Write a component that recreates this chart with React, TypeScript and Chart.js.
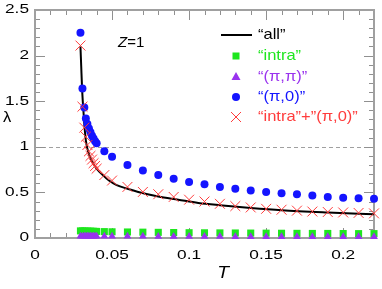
import React, { useEffect, useRef } from "react";
import { Chart, registerables } from "chart.js";
Chart.register(...registerables);

// ---- data ----
const T_points = [
  0.0295, 0.0308, 0.032, 0.033, 0.034, 0.035, 0.036, 0.037, 0.038, 0.039, 0.04,
  0.045, 0.05,
  0.06, 0.07, 0.08, 0.09, 0.1, 0.11, 0.12, 0.13, 0.14, 0.15, 0.16, 0.17, 0.18, 0.19, 0.2, 0.21, 0.22,
];
const lambdaPiZero = [
  2.25, 1.64, 1.43, 1.31, 1.25, 1.2, 1.16, 1.12, 1.09, 1.06, 1.04,
  0.95, 0.89,
  0.8, 0.74, 0.69, 0.65, 0.615, 0.59, 0.56, 0.54, 0.52, 0.505, 0.49, 0.48, 0.465, 0.45, 0.44, 0.435, 0.43,
];
const lambdaIntra = [
  0.078, 0.077, 0.076, 0.075, 0.075, 0.074, 0.074, 0.073, 0.073, 0.072, 0.072,
  0.07, 0.068,
  0.066, 0.064, 0.062, 0.06, 0.058, 0.057, 0.056, 0.055, 0.054, 0.053, 0.052, 0.051, 0.05, 0.05, 0.049, 0.048, 0.048,
];
const lambdaPiPi = [
  0.02, 0.02, 0.02, 0.02, 0.02, 0.02, 0.02, 0.02, 0.02, 0.02, 0.02,
  0.019, 0.019,
  0.018, 0.018, 0.017, 0.017, 0.016, 0.016, 0.016, 0.015, 0.015, 0.015, 0.015, 0.014, 0.014, 0.014, 0.014, 0.013, 0.013,
];
const lambdaIntraPlusPiZero = [
  2.11, 1.44, 1.21, 1.11, 1.02, 0.95, 0.9, 0.86, 0.82, 0.79, 0.76,
  0.69, 0.63,
  0.56, 0.505, 0.48, 0.45, 0.42, 0.4, 0.375, 0.35, 0.335, 0.32, 0.31, 0.3, 0.29, 0.285, 0.28, 0.275, 0.27,
];
const T_all = [
  0.0295, 0.03, 0.0305, 0.031, 0.032, 0.033, 0.034, 0.035, 0.037, 0.04, 0.044, 0.048, 0.053,
  0.06, 0.067, 0.08, 0.093, 0.106, 0.12, 0.14, 0.16, 0.19, 0.22,
];
const lambdaAll = [
  2.1, 1.88, 1.66, 1.5, 1.25, 1.07, 0.98, 0.92, 0.84, 0.76, 0.69, 0.63, 0.58,
  0.54, 0.505, 0.455, 0.42, 0.385, 0.36, 0.33, 0.305, 0.28, 0.26,
];
const xTickValues = [0, 0.05, 0.1, 0.15, 0.2];
const xTickLabels = ["0", "0.05", "0.1", "0.15", "0.2"];
const yTickValues = [0, 0.5, 1, 1.5, 2, 2.5];
const yTickLabels = ["0", "0.5", "1", "1.5", "2", "2.5"];
const legendLabels = ["“all”", "“intra”", "“(π,π)”", "“(π,0)”", "“intra”+”(π,0)”"];

const C_ALL = "#000000";
const C_INTRA = "#1ee61e";
const C_PIPI = "#9933ee";
const C_PIZERO = "#1414ff";
const C_SUM = "#ff3c3c";
const FONT = "'Liberation Sans', Arial, Helvetica, sans-serif";

function pts(xs: number[], ys: number[]) {
  return xs.map((x, i) => ({ x, y: ys[i] }));
}

function sText(
  ctx: CanvasRenderingContext2D, s: string, x: number, y: number, font: string,
  color: string, align: "left" | "center" | "right", sx: number
) {
  ctx.save();
  ctx.font = font;
  ctx.fillStyle = color;
  ctx.textBaseline = "middle";
  ctx.textAlign = "left";
  const w = ctx.measureText(s).width * sx;
  const left = align === "center" ? x - w / 2 : align === "right" ? x - w : x;
  ctx.translate(left, y);
  ctx.scale(sx, 1);
  ctx.fillText(s, 0, 0);
  ctx.restore();
  return w;
}

const deco = {
  id: "deco",
  beforeDatasetsDraw(chart: any) {
    const { ctx, chartArea: a, scales } = chart;
    const x = scales.x, y = scales.y;
    ctx.save();
    // dashed reference line at lambda = 1
    const y1 = Math.round(y.getPixelForValue(1)) + 0.5;
    ctx.strokeStyle = "#a0a0a0";
    ctx.lineWidth = 1;
    ctx.setLineDash([4, 3]);
    ctx.beginPath();
    ctx.moveTo(a.left, y1);
    ctx.lineTo(a.right, y1);
    ctx.stroke();
    ctx.setLineDash([]);
    // inward ticks
    ctx.strokeStyle = "#909090";
    ctx.lineWidth = 1;
    ctx.beginPath();
    for (let i = 0; i <= 22; i++) {
      const px = Math.round(x.getPixelForValue(i / 100)) + 0.5;
      const len = i % 5 === 0 ? 10 : 5;
      ctx.moveTo(px, a.bottom);
      ctx.lineTo(px, a.bottom - len);
      ctx.moveTo(px, a.top);
      ctx.lineTo(px, a.top + len);
    }
    for (let i = 0; i <= 25; i++) {
      const py = Math.round(y.getPixelForValue(i / 10)) + 0.5;
      const len = i % 5 === 0 ? 10 : 5;
      ctx.moveTo(a.left, py);
      ctx.lineTo(a.left + len, py);
      ctx.moveTo(a.right, py);
      ctx.lineTo(a.right - len, py);
    }
    ctx.stroke();
    // frame
    ctx.strokeStyle = "#a0a0a0";
    ctx.lineWidth = 2;
    ctx.strokeRect(a.left, a.top, a.right - a.left, a.bottom - a.top);
    ctx.restore();
  },
  afterDraw(chart: any) {
    const { ctx, chartArea: a, scales } = chart;
    const x = scales.x, y = scales.y;
    const tickFont = `12.5px ${FONT}`;
    xTickValues.forEach((v, i) => {
      sText(ctx, xTickLabels[i], x.getPixelForValue(v), a.bottom + 18, tickFont, "#000", "center", 1.38);
    });
    yTickValues.forEach((v, i) => {
      sText(ctx, yTickLabels[i], a.left - 6, y.getPixelForValue(v), tickFont, "#000", "right", 1.38);
    });
    // axis titles
    sText(ctx, "T", 223, 274, `italic 16px ${FONT}`, "#000", "center", 1.2);
    sText(ctx, "λ", 7, 118, `15px ${FONT}`, "#000", "center", 1.1);
    // Z=1
    const wz = sText(ctx, "Z", 118, 43, `italic 15px ${FONT}`, "#000", "left", 1.0);
    sText(ctx, "=1", 118 + wz, 43, `15px ${FONT}`, "#000", "left", 1.0);
    // legend
    const rows = [35, 56, 76.5, 97, 117];
    const mx = 236;
    const tx = 258;
    const lf = `15px ${FONT}`;
    const colors = [C_ALL, C_INTRA, C_PIPI, C_PIZERO, C_SUM];
    ctx.save();
    // line
    ctx.strokeStyle = C_ALL;
    ctx.lineWidth = 2;
    ctx.beginPath();
    ctx.moveTo(221, rows[0]);
    ctx.lineTo(252, rows[0]);
    ctx.stroke();
    // square
    ctx.fillStyle = C_INTRA;
    ctx.fillRect(mx - 3.5, rows[1] - 3.5, 7, 7);
    // triangle
    ctx.fillStyle = C_PIPI;
    ctx.beginPath();
    ctx.moveTo(mx, rows[2] - 4.5);
    ctx.lineTo(mx + 4.5, rows[2] + 3.5);
    ctx.lineTo(mx - 4.5, rows[2] + 3.5);
    ctx.closePath();
    ctx.fill();
    // circle
    ctx.fillStyle = C_PIZERO;
    ctx.beginPath();
    ctx.arc(mx, rows[3], 4, 0, Math.PI * 2);
    ctx.fill();
    // cross
    ctx.strokeStyle = C_SUM;
    ctx.lineWidth = 1;
    ctx.beginPath();
    ctx.moveTo(mx - 5, rows[4] - 5);
    ctx.lineTo(mx + 5, rows[4] + 5);
    ctx.moveTo(mx + 5, rows[4] - 5);
    ctx.lineTo(mx - 5, rows[4] + 5);
    ctx.stroke();
    ctx.restore();
    legendLabels.forEach((s, i) => sText(ctx, s, tx, rows[i], lf, colors[i], "left", 1.1));
  },
};

export default function App() {
  const ref = useRef<HTMLCanvasElement | null>(null);
  useEffect(() => {
    if (!ref.current) return;
    const chart = new Chart(ref.current, {
      type: "scatter",
      data: {
        datasets: [
          {
            label: legendLabels[4],
            data: pts(T_points, lambdaIntraPlusPiZero),
            pointStyle: "crossRot",
            pointRadius: 7,
            pointBorderWidth: 1,
            borderColor: C_SUM,
            backgroundColor: C_SUM,
            order: 0,
          },
          {
            label: legendLabels[3],
            data: pts(T_points, lambdaPiZero),
            pointStyle: "circle",
            pointRadius: 4,
            borderWidth: 0,
            backgroundColor: C_PIZERO,
            borderColor: C_PIZERO,
            order: 1,
          },
          {
            label: legendLabels[2],
            data: pts(T_points, lambdaPiPi),
            pointStyle: "triangle",
            pointRadius: 4.5,
            borderWidth: 0,
            backgroundColor: C_PIPI,
            borderColor: C_PIPI,
            order: 2,
          },
          {
            label: legendLabels[1],
            data: pts(T_points, lambdaIntra),
            pointStyle: "rect",
            pointRadius: 5,
            borderWidth: 0,
            backgroundColor: C_INTRA,
            borderColor: C_INTRA,
            order: 3,
          },
          {
            label: legendLabels[0],
            data: pts(T_all, lambdaAll),
            showLine: true,
            pointRadius: 0,
            borderColor: C_ALL,
            backgroundColor: C_ALL,
            borderWidth: 2,
            cubicInterpolationMode: "monotone",
            order: 4,
          },
        ],
      },
      options: {
        responsive: false,
        animation: false,
        clip: false as any,
        layout: { padding: { top: 10, right: 4, left: 0, bottom: 0 } },
        plugins: { legend: { display: false }, tooltip: { enabled: false } },
        scales: {
          x: {
            type: "linear",
            min: 0,
            max: 0.22,
            grid: { display: false, drawTicks: false },
            border: { display: false },
            ticks: { display: false },
            afterBuildTicks: (s: any) => {
              s.ticks = xTickValues.map((v) => ({ value: v }));
            },
            afterFit: (s: any) => {
              s.height = 51;
            },
          },
          y: {
            type: "linear",
            min: 0,
            max: 2.5,
            grid: { display: false, drawTicks: false },
            border: { display: false },
            ticks: { display: false },
            afterBuildTicks: (s: any) => {
              s.ticks = yTickValues.map((v) => ({ value: v }));
            },
            afterFit: (s: any) => {
              s.width = 35;
            },
          },
        },
      },
      plugins: [deco],
    });
    return () => chart.destroy();
  }, []);
  return (
    <div style={{ position: "absolute", left: 0, top: 0, width: 382, height: 289, background: "#fff" }}>
      <canvas ref={ref} width={382} height={289} style={{ display: "block" }} />
    </div>
  );
}
